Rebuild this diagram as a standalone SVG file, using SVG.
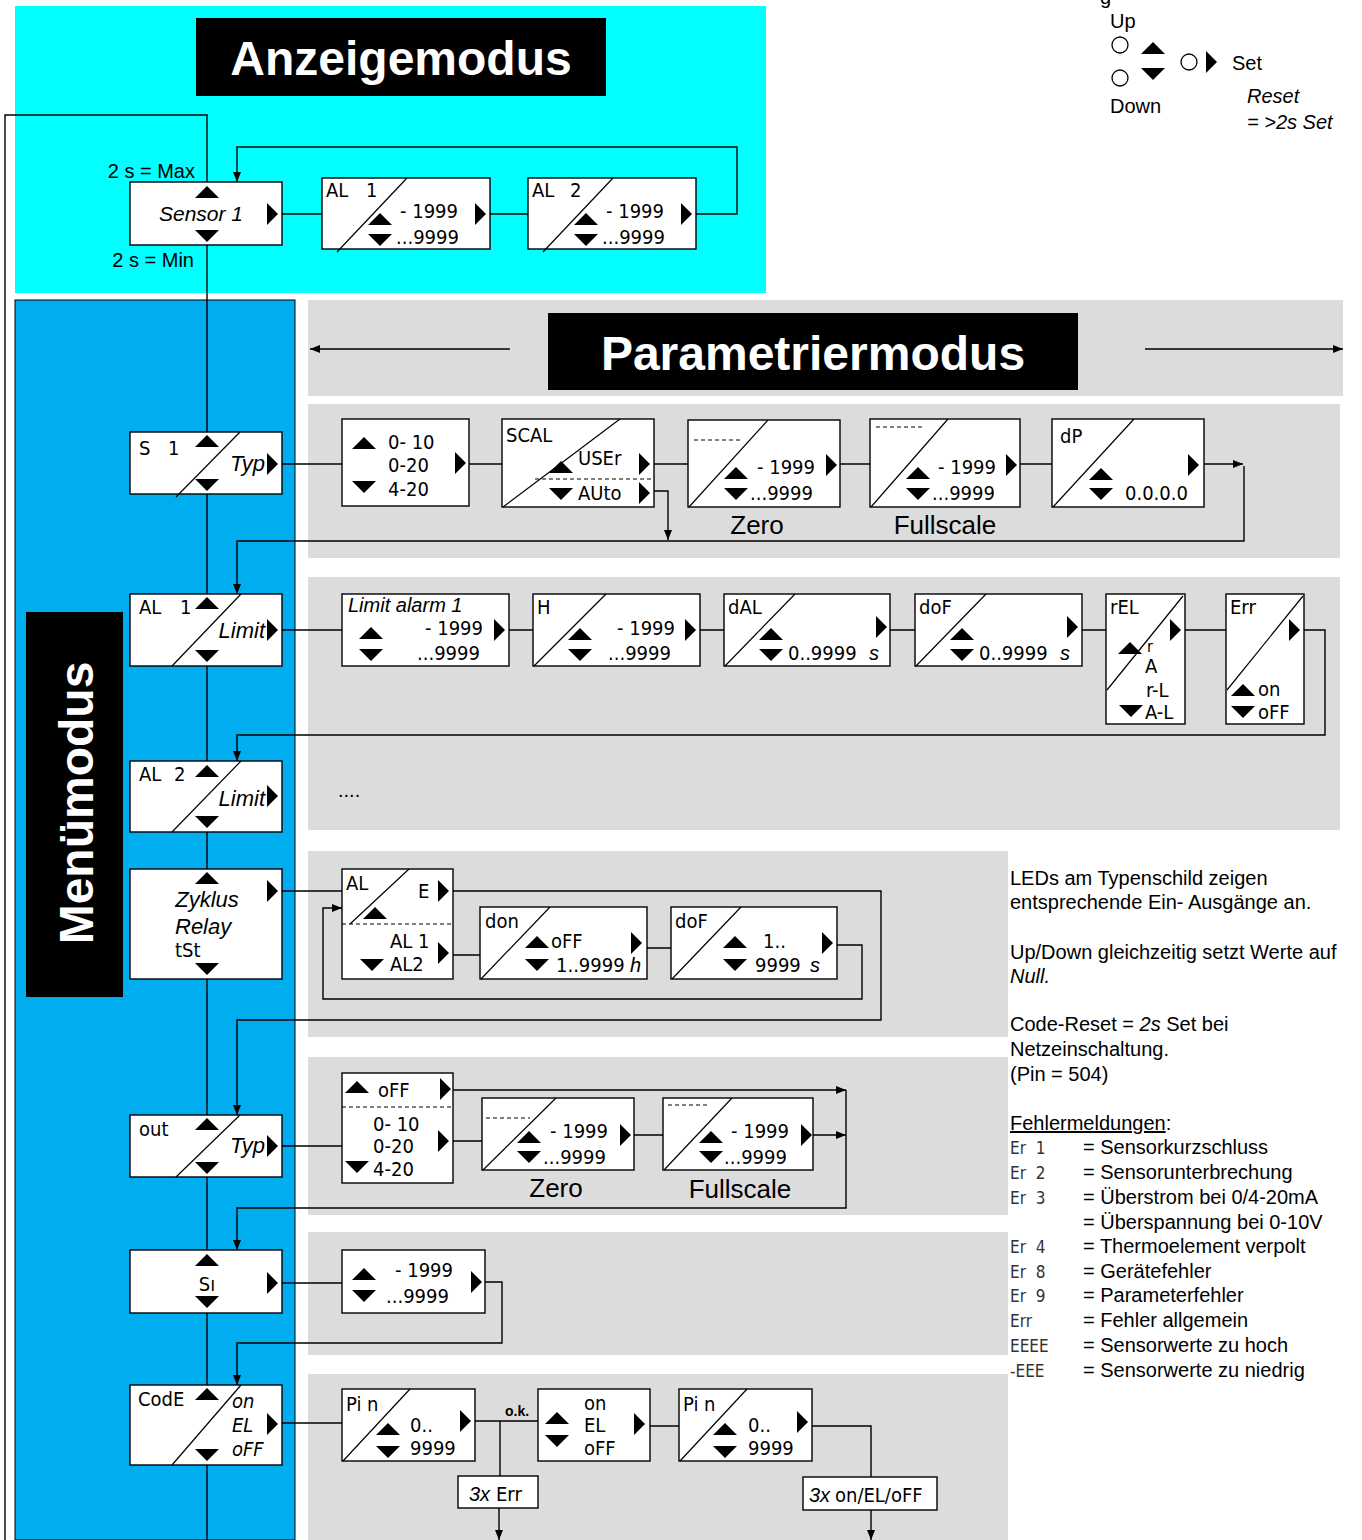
<svg xmlns="http://www.w3.org/2000/svg" xmlns:xlink="http://www.w3.org/1999/xlink" width="1362" height="1540" viewBox="0 0 1362 1540">
<style>
.box{fill:#fff;stroke:#000;stroke-width:1.4}
.ln{stroke:#000;stroke-width:1.4;fill:none}
.dg{stroke:#000;stroke-width:1.2;fill:none}
.dash{stroke:#000;stroke-width:1.2;stroke-dasharray:4,3;fill:none}
.lcd{font-family:"DejaVu Sans Condensed","DejaVu Sans",sans-serif;font-size:20px;fill:#000;white-space:pre}
.lcds{font-family:"DejaVu Sans Condensed","DejaVu Sans",sans-serif;font-size:17px;fill:#333;white-space:pre}
.t{font-family:"Liberation Sans",Arial,sans-serif;font-size:20px;fill:#000}
.it{font-style:italic}
.big{font-family:"Liberation Sans",Arial,sans-serif;font-size:48px;font-weight:bold;fill:#fff}
</style>
<defs>
<path id="up" d="M-12,6 L0,-6 L12,6 Z"/>
<path id="dn" d="M-12,-6 L0,6 L12,-6 Z"/>
<path id="rt" d="M-5,-11 L6,0 L-5,11 Z"/>
<marker id="ah" markerUnits="userSpaceOnUse" markerWidth="10" markerHeight="8" refX="10" refY="4" orient="auto"><path d="M0,0 L10,4 L0,8 Z" fill="#000"/></marker>
</defs>

<!-- backgrounds -->
<rect x="15" y="6" width="751" height="287" fill="#00FFFF"/>
<rect x="15" y="300" width="280" height="1240" fill="#00AEEF" stroke="#000" stroke-width="1"/>
<rect x="308" y="300" width="1035" height="96" fill="#DCDCDC"/>
<rect x="308" y="404" width="1032" height="154" fill="#DCDCDC"/>
<rect x="308" y="577" width="1032" height="253" fill="#DCDCDC"/>
<rect x="308" y="851" width="700" height="186" fill="#DCDCDC"/>
<rect x="308" y="1057" width="700" height="158" fill="#DCDCDC"/>
<rect x="308" y="1232" width="700" height="123" fill="#DCDCDC"/>
<rect x="308" y="1374" width="700" height="166" fill="#DCDCDC"/>

<!-- titles -->
<g id="title-anzeige"><rect x="196" y="18" width="410" height="78" fill="#000"/><text class="big" x="401" y="75" text-anchor="middle">Anzeigemodus</text></g>
<g id="title-param"><rect x="548" y="313" width="530" height="77" fill="#000"/><text class="big" x="813" y="370" text-anchor="middle">Parametriermodus</text></g>
<g id="title-menu"><rect x="26" y="612" width="97" height="385" fill="#000"/><text class="big" transform="translate(93,803) rotate(-90)" text-anchor="middle">Menümodus</text></g>

<!-- connectors -->
<g id="connectors">
<path class="ln" d="M5,1540 V115 H207 V1540"/>
<path class="ln" d="M282,214 H322 M490,214 H528"/>
<path class="ln" d="M696,214 H737 V147 H237 V182" marker-end="url(#ah)"/>
<path class="ln" d="M510,349 H310" marker-end="url(#ah)"/>
<path class="ln" d="M1145,349 H1343" marker-end="url(#ah)"/>
<path class="ln" d="M282,464 H342 M469,464 H502 M654,464 H688 M840,464 H870 M1020,464 H1052"/>
<path class="ln" d="M1204,464 H1243" marker-end="url(#ah)"/>
<path class="ln" d="M654,491 H668 V540" marker-end="url(#ah)"/>
<path class="ln" d="M1244,466 V541 H237 V594" marker-end="url(#ah)"/>
<path class="ln" d="M282,630 H342 M509,630 H533 M700,630 H724 M890,630 H915 M1082,630 H1106 M1185,630 H1226"/>
<path class="ln" d="M1304,630 H1325 V735 H237 V761" marker-end="url(#ah)"/>
<path class="ln" d="M282,891 H342 M453,955 H480 M647,948 H671"/>
<path class="ln" d="M453,891 H881 V1020 H237 V1115" marker-end="url(#ah)"/>
<path class="ln" d="M837,945 H862 V999 H323 V908 H342" marker-end="url(#ah)"/>
<path class="ln" d="M282,1146 H342 M453,1141 H482 M634,1135 H663"/>
<path class="ln" d="M453,1090 H846" marker-end="url(#ah)"/>
<path class="ln" d="M813,1135 H846" marker-end="url(#ah)"/>
<path class="ln" d="M846,1090 V1208 H237 V1250" marker-end="url(#ah)"/>
<path class="ln" d="M282,1283 H342"/>
<path class="ln" d="M485,1282 H502 V1343 H237 V1385" marker-end="url(#ah)"/>
<path class="ln" d="M282,1423 H342 M475,1421 H538 M500,1421 V1476 M650,1426 H679 M812,1426 H871 V1477"/>
<path class="ln" d="M499,1508 V1540" marker-end="url(#ah)"/>
<path class="ln" d="M871,1510 V1540" marker-end="url(#ah)"/>
</g>

<!-- Anzeigemodus -->
<text class="t" x="195" y="178" text-anchor="end">2 s = Max</text>
<text class="t" x="194" y="267" text-anchor="end">2 s = Min</text>
<g id="sensor1">
<rect class="box" x="130" y="182" width="152" height="63"/>
<use href="#up" x="207" y="192"/><use href="#dn" x="207" y="236"/>
<text class="t it" x="201" y="221" text-anchor="middle" style="font-size:21px">Sensor 1</text>
<use href="#rt" x="272" y="214"/>
</g>
<g id="disp-al1">
<rect class="box" x="322" y="178" width="168" height="71"/>
<path class="dg" d="M407,178 L337,252"/>
<text class="lcd" x="326" y="197">AL</text><text class="lcd" x="366" y="197">1</text>
<use href="#up" x="380" y="219"/><use href="#dn" x="380" y="240"/>
<text class="lcd" x="400" y="218">- 1999</text><text class="lcd" x="396" y="244">...9999</text>
<use href="#rt" x="480" y="214"/>
</g>
<g id="disp-al2">
<rect class="box" x="528" y="178" width="168" height="71"/>
<path class="dg" d="M613,178 L543,252"/>
<text class="lcd" x="532" y="197">AL</text><text class="lcd" x="570" y="197">2</text>
<use href="#up" x="586" y="219"/><use href="#dn" x="586" y="240"/>
<text class="lcd" x="606" y="218">- 1999</text><text class="lcd" x="602" y="244">...9999</text>
<use href="#rt" x="686" y="214"/>
</g>

<!-- legend -->
<g id="legend">
<text class="t" x="1100" y="4">g</text>
<text class="t" x="1110" y="28">Up</text>
<circle cx="1120" cy="45" r="8" fill="#fff" stroke="#000" stroke-width="1.3"/>
<circle cx="1120" cy="78" r="8" fill="#fff" stroke="#000" stroke-width="1.3"/>
<use href="#up" x="1153" y="48"/><use href="#dn" x="1153" y="74"/>
<circle cx="1189" cy="62" r="8" fill="#fff" stroke="#000" stroke-width="1.3"/>
<use href="#rt" x="1211" y="62"/>
<text class="t" x="1232" y="70">Set</text>
<text class="t" x="1110" y="113">Down</text>
<text class="t it" x="1247" y="103">Reset</text>
<text class="t it" x="1247" y="129">= &gt;2s Set</text>
</g>

<!-- S1 row -->
<g id="menu-s1">
<rect class="box" x="130" y="432" width="152" height="62"/>
<path class="dg" d="M240,432 L176,497"/>
<text class="lcd" x="139" y="455">S</text><text class="lcd" x="168" y="455">1</text>
<use href="#up" x="207" y="441"/><use href="#dn" x="207" y="485"/>
<text class="t it" x="265" y="471" text-anchor="end" style="font-size:22px">Typ</text>
<use href="#rt" x="272" y="464"/>
</g>
<g id="s1-typ">
<rect class="box" x="342" y="419" width="127" height="87"/>
<use href="#up" x="364" y="443"/><use href="#dn" x="364" y="487"/>
<text class="lcd" x="388" y="449">0- 10</text><text class="lcd" x="388" y="472">0-20</text><text class="lcd" x="388" y="496">4-20</text>
<use href="#rt" x="460" y="463"/>
</g>
<g id="s1-scal">
<rect class="box" x="502" y="419" width="152" height="88"/>
<path class="dg" d="M620,419 L503,507"/>
<path class="dash" d="M535,479 H654"/>
<text class="lcd" x="506" y="442">SCAL</text>
<use href="#up" x="561" y="467"/><text class="lcd" x="578" y="465">USEr</text><use href="#rt" x="644" y="464"/>
<use href="#dn" x="561" y="494"/><text class="lcd" x="578" y="500">AUto</text><use href="#rt" x="644" y="493"/>
</g>
<g id="s1-zero">
<rect class="box" x="688" y="420" width="152" height="87"/>
<path class="dg" d="M768,420 L689,507"/>
<path class="dash" d="M694,440 H740"/>
<use href="#up" x="736" y="473"/><use href="#dn" x="736" y="494"/>
<text class="lcd" x="757" y="474">- 1999</text><text class="lcd" x="750" y="500">...9999</text>
<use href="#rt" x="831" y="465"/>
<text class="t" x="757" y="534" text-anchor="middle" style="font-size:26px">Zero</text>
</g>
<g id="s1-full">
<rect class="box" x="870" y="419" width="150" height="88"/>
<path class="dg" d="M948,419 L871,507"/>
<path class="dash" d="M876,427 H922"/>
<use href="#up" x="918" y="473"/><use href="#dn" x="918" y="494"/>
<text class="lcd" x="938" y="474">- 1999</text><text class="lcd" x="932" y="500">...9999</text>
<use href="#rt" x="1011" y="465"/>
<text class="t" x="945" y="534" text-anchor="middle" style="font-size:26px">Fullscale</text>
</g>
<g id="s1-dp">
<rect class="box" x="1052" y="419" width="152" height="88"/>
<path class="dg" d="M1134,419 L1053,507"/>
<text class="lcd" x="1060" y="443">dP</text>
<use href="#up" x="1101" y="474"/><use href="#dn" x="1101" y="494"/>
<text class="lcd" x="1125" y="500">0.0.0.0</text>
<use href="#rt" x="1193" y="465"/>
</g>

<!-- AL1 row -->
<g id="menu-al1">
<rect class="box" x="130" y="594" width="152" height="72"/>
<path class="dg" d="M241,594 L172,666"/>
<text class="lcd" x="139" y="614">AL</text><text class="lcd" x="180" y="614">1</text>
<use href="#up" x="207" y="603"/><use href="#dn" x="207" y="656"/>
<text class="t it" x="265" y="638" text-anchor="end" style="font-size:22px">Limit</text>
<use href="#rt" x="272" y="630"/>
</g>
<g id="al1-limit">
<rect class="box" x="342" y="594" width="167" height="72"/>
<text class="t it" x="348" y="612">Limit alarm 1</text>
<use href="#up" x="371" y="633"/><use href="#dn" x="371" y="655"/>
<text class="lcd" x="425" y="635">- 1999</text><text class="lcd" x="417" y="660">...9999</text>
<use href="#rt" x="499" y="630"/>
</g>
<g id="al1-h">
<rect class="box" x="533" y="594" width="167" height="72"/>
<path class="dg" d="M606,594 L534,666"/>
<text class="lcd" x="537" y="614">H</text>
<use href="#up" x="580" y="634"/><use href="#dn" x="580" y="655"/>
<text class="lcd" x="617" y="635">- 1999</text><text class="lcd" x="608" y="660">...9999</text>
<use href="#rt" x="690" y="630"/>
</g>
<g id="al1-dal">
<rect class="box" x="724" y="594" width="166" height="72"/>
<path class="dg" d="M795,594 L725,666"/>
<text class="lcd" x="728" y="614">dAL</text>
<use href="#up" x="771" y="634"/><use href="#dn" x="771" y="655"/>
<text class="lcd" x="788" y="660">0..9999</text><text class="t it" x="869" y="660">s</text>
<use href="#rt" x="881" y="627"/>
</g>
<g id="al1-dof">
<rect class="box" x="915" y="594" width="167" height="72"/>
<path class="dg" d="M986,594 L916,666"/>
<text class="lcd" x="919" y="614">doF</text>
<use href="#up" x="962" y="634"/><use href="#dn" x="962" y="655"/>
<text class="lcd" x="979" y="660">0..9999</text><text class="t it" x="1060" y="660">s</text>
<use href="#rt" x="1072" y="627"/>
</g>
<g id="al1-rel">
<rect class="box" x="1106" y="594" width="79" height="130"/>
<path class="dg" d="M1183,596 L1107,690"/>
<text class="lcd" x="1110" y="614">rEL</text>
<use href="#up" x="1130" y="648"/>
<text class="lcd" x="1147" y="652" style="font-size:16px">r</text>
<text class="lcd" x="1145" y="673">A</text>
<text class="lcd" x="1146" y="697">r-L</text>
<use href="#dn" x="1131" y="711"/><text class="lcd" x="1145" y="719">A-L</text>
<use href="#rt" x="1175" y="630"/>
</g>
<g id="al1-err">
<rect class="box" x="1226" y="594" width="78" height="130"/>
<path class="dg" d="M1303,596 L1227,690"/>
<text class="lcd" x="1230" y="614">Err</text>
<use href="#rt" x="1294" y="630"/>
<use href="#up" x="1243" y="690"/><text class="lcd" x="1258" y="696">on</text>
<use href="#dn" x="1243" y="712"/><text class="lcd" x="1258" y="719">oFF</text>
</g>

<!-- AL2 row -->
<g id="menu-al2">
<rect class="box" x="130" y="761" width="152" height="71"/>
<path class="dg" d="M241,761 L172,832"/>
<text class="lcd" x="139" y="781">AL</text><text class="lcd" x="174" y="781">2</text>
<use href="#up" x="207" y="771"/><use href="#dn" x="207" y="822"/>
<text class="t it" x="265" y="806" text-anchor="end" style="font-size:22px">Limit</text>
<use href="#rt" x="272" y="796"/>
</g>
<text class="t" x="338" y="797">....</text>

<!-- Zyklus row -->
<g id="menu-zyklus">
<rect class="box" x="130" y="869" width="152" height="110"/>
<use href="#up" x="207" y="878"/><use href="#dn" x="207" y="969"/>
<text class="t it" x="207" y="907" text-anchor="middle" style="font-size:22px">Zyklus</text>
<text class="t it" x="175" y="934" style="font-size:22px">Relay</text>
<text class="lcd" x="175" y="957">tSt</text>
<use href="#rt" x="272" y="891"/>
</g>
<g id="zyk-al">
<rect class="box" x="342" y="869" width="111" height="110"/>
<path class="dg" d="M409,869 L350,924"/>
<path class="dash" d="M342,924 H453"/>
<text class="lcd" x="346" y="890">AL</text>
<use href="#up" x="375" y="913"/>
<text class="lcd" x="418" y="898">E</text><use href="#rt" x="443" y="891"/>
<text class="lcd" x="390" y="948">AL 1</text>
<use href="#dn" x="372" y="965"/><text class="lcd" x="390" y="971">AL2</text>
<use href="#rt" x="443" y="953"/>
</g>
<g id="zyk-don">
<rect class="box" x="480" y="907" width="167" height="72"/>
<path class="dg" d="M550,907 L481,979"/>
<text class="lcd" x="485" y="928">don</text>
<use href="#up" x="537" y="942"/><text class="lcd" x="551" y="948">oFF</text>
<use href="#dn" x="537" y="965"/><text class="lcd" x="556" y="972">1..9999</text><text class="t it" x="630" y="972">h</text>
<use href="#rt" x="636" y="943"/>
</g>
<g id="zyk-dof">
<rect class="box" x="671" y="907" width="166" height="72"/>
<path class="dg" d="M741,907 L672,979"/>
<text class="lcd" x="675" y="928">doF</text>
<use href="#up" x="735" y="942"/><text class="lcd" x="763" y="948">1..</text>
<use href="#dn" x="735" y="965"/><text class="lcd" x="755" y="972">9999</text><text class="t it" x="810" y="972">s</text>
<use href="#rt" x="827" y="943"/>
</g>

<!-- out row -->
<g id="menu-out">
<rect class="box" x="130" y="1115" width="152" height="62"/>
<path class="dg" d="M240,1115 L176,1177"/>
<text class="lcd" x="139" y="1136">out</text>
<use href="#up" x="207" y="1124"/><use href="#dn" x="207" y="1168"/>
<text class="t it" x="265" y="1153" text-anchor="end" style="font-size:22px">Typ</text>
<use href="#rt" x="272" y="1146"/>
</g>
<g id="out-typ">
<rect class="box" x="342" y="1073" width="111" height="110"/>
<use href="#up" x="357" y="1087"/><text class="lcd" x="378" y="1097">oFF</text><use href="#rt" x="445" y="1089"/>
<path class="dash" d="M342,1107 H453"/>
<text class="lcd" x="373" y="1131">0- 10</text><text class="lcd" x="373" y="1153">0-20</text><text class="lcd" x="373" y="1176">4-20</text>
<use href="#dn" x="357" y="1167"/>
<use href="#rt" x="443" y="1141"/>
</g>
<g id="out-zero">
<rect class="box" x="482" y="1098" width="152" height="72"/>
<path class="dg" d="M556,1098 L483,1170"/>
<path class="dash" d="M486,1118 H530"/>
<use href="#up" x="529" y="1137"/><text class="lcd" x="550" y="1138">- 1999</text>
<use href="#dn" x="529" y="1157"/><text class="lcd" x="543" y="1164">...9999</text>
<use href="#rt" x="625" y="1135"/>
<text class="t" x="556" y="1197" text-anchor="middle" style="font-size:26px">Zero</text>
</g>
<g id="out-full">
<rect class="box" x="663" y="1098" width="150" height="72"/>
<path class="dg" d="M732,1098 L664,1170"/>
<path class="dash" d="M668,1105 H710"/>
<use href="#up" x="711" y="1137"/><text class="lcd" x="731" y="1138">- 1999</text>
<use href="#dn" x="711" y="1157"/><text class="lcd" x="724" y="1164">...9999</text>
<use href="#rt" x="806" y="1135"/>
<text class="t" x="740" y="1198" text-anchor="middle" style="font-size:26px">Fullscale</text>
</g>

<!-- Si row -->
<g id="menu-si">
<rect class="box" x="130" y="1250" width="152" height="63"/>
<use href="#up" x="207" y="1260"/><use href="#dn" x="207" y="1302"/>
<text class="lcd" x="207" y="1291" text-anchor="middle">Sı</text>
<use href="#rt" x="272" y="1283"/>
</g>
<g id="si-val">
<rect class="box" x="342" y="1250" width="143" height="63"/>
<use href="#up" x="364" y="1274"/><use href="#dn" x="364" y="1296"/>
<text class="lcd" x="395" y="1277">- 1999</text><text class="lcd" x="386" y="1303">...9999</text>
<use href="#rt" x="476" y="1282"/>
</g>

<!-- Code row -->
<g id="menu-code">
<rect class="box" x="130" y="1385" width="152" height="80"/>
<path class="dg" d="M241,1385 L172,1465"/>
<text class="lcd" x="138" y="1406">CodE</text>
<use href="#up" x="207" y="1394"/><use href="#dn" x="207" y="1455"/>
<text class="lcd it" x="232" y="1408">on</text><text class="lcd it" x="232" y="1432">EL</text><text class="lcd it" x="232" y="1456">oFF</text>
<use href="#rt" x="272" y="1424"/>
</g>
<g id="code-pin1">
<rect class="box" x="342" y="1389" width="133" height="72"/>
<path class="dg" d="M410,1389 L343,1461"/>
<text class="lcd" x="346" y="1411">Pi n</text>
<use href="#up" x="388" y="1429"/><text class="lcd" x="410" y="1432">0..</text>
<use href="#dn" x="388" y="1452"/><text class="lcd" x="410" y="1455">9999</text>
<use href="#rt" x="465" y="1421"/>
</g>
<text class="t" x="505" y="1416" style="font-size:14px;font-weight:bold">o.k.</text>
<g id="code-err3">
<rect class="box" x="458" y="1476" width="80" height="32"/>
<text class="t it" x="469" y="1501">3x</text><text class="lcd" x="496" y="1501">Err</text>
</g>
<g id="code-oel">
<rect class="box" x="538" y="1389" width="112" height="72"/>
<use href="#up" x="557" y="1418"/><use href="#dn" x="557" y="1441"/>
<text class="lcd" x="584" y="1410">on</text><text class="lcd" x="584" y="1432">EL</text><text class="lcd" x="584" y="1455">oFF</text>
<use href="#rt" x="639" y="1424"/>
</g>
<g id="code-pin2">
<rect class="box" x="679" y="1389" width="133" height="72"/>
<path class="dg" d="M747,1389 L680,1461"/>
<text class="lcd" x="683" y="1411">Pi n</text>
<use href="#up" x="725" y="1429"/><text class="lcd" x="748" y="1432">0..</text>
<use href="#dn" x="725" y="1452"/><text class="lcd" x="748" y="1455">9999</text>
<use href="#rt" x="802" y="1422"/>
</g>
<g id="code-onel3">
<rect class="box" x="803" y="1477" width="134" height="33"/>
<text class="t it" x="809" y="1502">3x</text><text class="lcd" x="835" y="1502">on/EL/oFF</text>
</g>

<!-- notes -->
<g id="notes">
<text class="t" x="1010" y="885">LEDs am Typenschild zeigen</text>
<text class="t" x="1010" y="909">entsprechende Ein- Ausgänge an.</text>
<text class="t" x="1010" y="959">Up/Down gleichzeitig setzt Werte auf</text>
<text class="t it" x="1010" y="983">Null.</text>
<text class="t" x="1010" y="1031">Code-Reset = <tspan font-style="italic">2s</tspan> Set bei</text>
<text class="t" x="1010" y="1056">Netzeinschaltung.</text>
<text class="t" x="1010" y="1081">(Pin = 504)</text>
<text class="t" x="1010" y="1130"><tspan text-decoration="underline">Fehlermeldungen</tspan>:</text>
<text class="lcds" x="1010" y="1154">Er  1</text><text class="t" x="1083" y="1154">= Sensorkurzschluss</text>
<text class="lcds" x="1010" y="1179">Er  2</text><text class="t" x="1083" y="1179">= Sensorunterbrechung</text>
<text class="lcds" x="1010" y="1204">Er  3</text><text class="t" x="1083" y="1204">= Überstrom bei 0/4-20mA</text>
<text class="t" x="1083" y="1229">= Überspannung bei 0-10V</text>
<text class="lcds" x="1010" y="1253">Er  4</text><text class="t" x="1083" y="1253">= Thermoelement verpolt</text>
<text class="lcds" x="1010" y="1278">Er  8</text><text class="t" x="1083" y="1278">= Gerätefehler</text>
<text class="lcds" x="1010" y="1302">Er  9</text><text class="t" x="1083" y="1302">= Parameterfehler</text>
<text class="lcds" x="1010" y="1327">Err</text><text class="t" x="1083" y="1327">= Fehler allgemein</text>
<text class="lcds" x="1010" y="1352">EEEE</text><text class="t" x="1083" y="1352">= Sensorwerte zu hoch</text>
<text class="lcds" x="1010" y="1377">-EEE</text><text class="t" x="1083" y="1377">= Sensorwerte zu niedrig</text>
</g>
</svg>
